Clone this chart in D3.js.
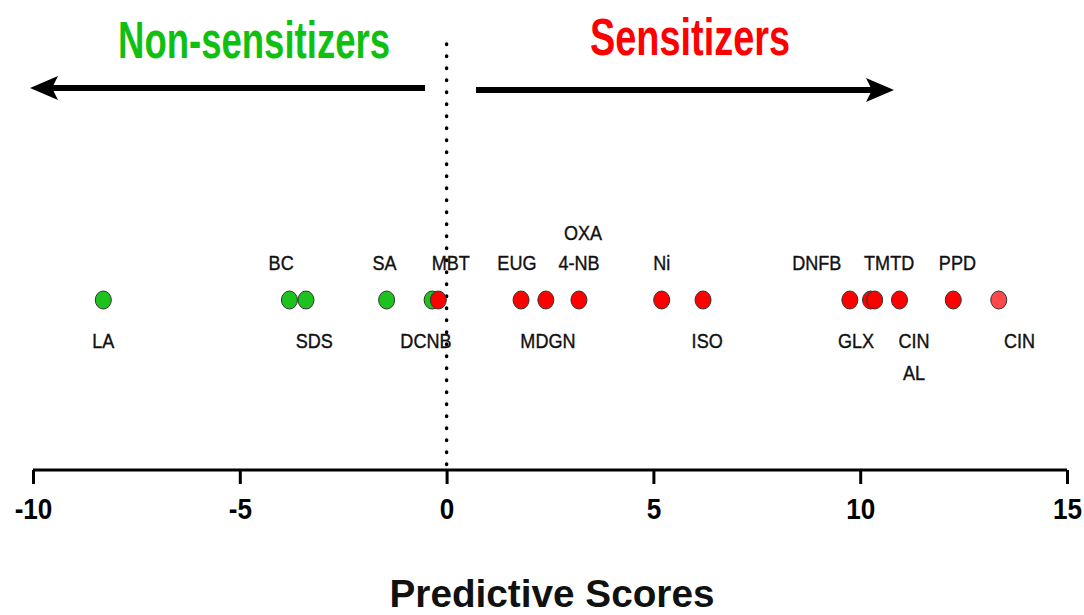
<!DOCTYPE html>
<html>
<head>
<meta charset="utf-8">
<script src="https://cdn.jsdelivr.net/npm/d3@7"></script>
<style>
  body { margin: 0; background: #fff; }
  svg { display: block; }
  text { font-family: "Liberation Sans", Arial, sans-serif; }
</style>
</head>
<body>
<div id="chart"></div>
<script>
// Predictive scores of each compound (green = non-sensitizer, red = sensitizer)
const nonSensScores = [-8.3, -3.8, -3.4, -1.45, -0.35];
const sensScores = [-0.2, 1.8, 2.4, 3.2, 5.2, 6.2, 9.75, 10.25, 10.35, 10.95, 12.25, 13.35];

// compound labels: text, score where the label sits, row
const labelTexts = ["LA", "BC", "SDS", "SA", "MBT", "DCNB", "EUG", "MDGN", "OXA", "4-NB",
    "Ni", "ISO", "DNFB", "TMTD", "PPD", "GLX", "CIN", "AL", "CIN"];
const labelScores = [-8.3, -4.0, -3.2, -1.5, 0.1, -0.5, 1.7, 2.45, 3.3, 3.2,
    5.2, 6.3, 8.95, 10.7, 12.35, 9.9, 11.3, 11.3, 13.85];
const labelRows = ["below", "above", "below", "above", "above", "below", "above", "below", "top", "above",
    "above", "below", "above", "above", "above", "below", "below", "below2", "below"];

const xTicks = [-10, -5, 0, 5, 10, 15];

const width = 1084, height = 615;
const svg = d3.select("#chart").append("svg")
    .attr("width", width)
    .attr("height", height);

const x = d3.scaleLinear().domain([-10, 15]).range([33, 1067]);
const axisY = 470;
const dotY = 300;
const rowY = { top: 240, above: 270, below: 348, below2: 380 };

// dotted line at zero
svg.append("line")
    .attr("x1", x(0)).attr("x2", x(0))
    .attr("y1", 44).attr("y2", axisY + 6)
    .attr("stroke", "#000")
    .attr("stroke-width", 3.5)
    .attr("stroke-linecap", "round")
    .attr("stroke-dasharray", "0.5 11.5");

// x axis
const axis = svg.append("g")
    .attr("transform", `translate(0,${axisY})`)
    .call(d3.axisBottom(x).tickValues(xTicks).tickSize(14).tickPadding(14).tickFormat(d => String(d)));
axis.select(".domain").attr("stroke-width", 3).attr("d", `M${x(-10)},0H${x(15)}`);
axis.selectAll(".tick line").attr("stroke-width", 3);
axis.selectAll(".tick text")
    .attr("transform", "scale(0.9,1)")
    .style("font-size", "29px")
    .style("font-weight", "bold")
    .attr("fill", "#000");

// arrows
function arrow(x1, x2, y) {
    const dir = Math.sign(x2 - x1);
    svg.append("line")
        .attr("x1", x1).attr("x2", x2 - dir * 20)
        .attr("y1", y).attr("y2", y)
        .attr("stroke", "#000")
        .attr("stroke-width", 6);
    svg.append("path")
        .attr("d", `M${x2},${y} L${x2 - dir * 28},${y - 12} L${x2 - dir * 22},${y} L${x2 - dir * 28},${y + 12} Z`)
        .attr("fill", "#000");
}
arrow(425, 30, 88);
arrow(476, 894, 90);

// headings
svg.append("text")
    .attr("x", 118).attr("y", 58)
    .attr("textLength", 272)
    .attr("lengthAdjust", "spacingAndGlyphs")
    .style("font-size", "52px")
    .style("font-weight", "bold")
    .attr("fill", "#10c010")
    .text("Non-sensitizers");
svg.append("text")
    .attr("x", 590).attr("y", 55)
    .attr("textLength", 200)
    .attr("lengthAdjust", "spacingAndGlyphs")
    .style("font-size", "52px")
    .style("font-weight", "bold")
    .attr("fill", "#ff0000")
    .text("Sensitizers");

// points
svg.selectAll(".ns")
    .data(nonSensScores)
    .join("ellipse")
    .attr("class", "ns")
    .attr("cx", d => x(d))
    .attr("cy", dotY)
    .attr("rx", 8).attr("ry", 9)
    .attr("fill", "#1ec21e")
    .attr("stroke", "#333")
    .attr("stroke-width", 1);

svg.selectAll(".s")
    .data(sensScores)
    .join("ellipse")
    .attr("class", "s")
    .attr("cx", d => x(d))
    .attr("cy", dotY)
    .attr("rx", 8).attr("ry", 9)
    .attr("fill", (d, i) => i === sensScores.length - 1 ? "#ff4848" : "#ff0000")
    .attr("stroke", "#333")
    .attr("stroke-width", 1);

// labels
svg.selectAll(".lab")
    .data(labelTexts)
    .join("g")
    .attr("class", "lab")
    .attr("transform", (d, i) => `translate(${x(labelScores[i])},${rowY[labelRows[i]]}) scale(0.86,1)`)
    .append("text")
    .attr("text-anchor", "middle")
    .style("font-size", "21px")
    .style("font-weight", "500")
    .attr("fill", "#111")
    .attr("stroke", "#111")
    .attr("stroke-width", 0.4)
    .text(d => d);

// axis title
svg.append("text")
    .attr("x", 552).attr("y", 607)
    .attr("text-anchor", "middle")
    .attr("textLength", 325)
    .attr("lengthAdjust", "spacingAndGlyphs")
    .style("font-size", "38px")
    .style("font-weight", "bold")
    .attr("fill", "#111")
    .text("Predictive Scores");
</script>
</body>
</html>
